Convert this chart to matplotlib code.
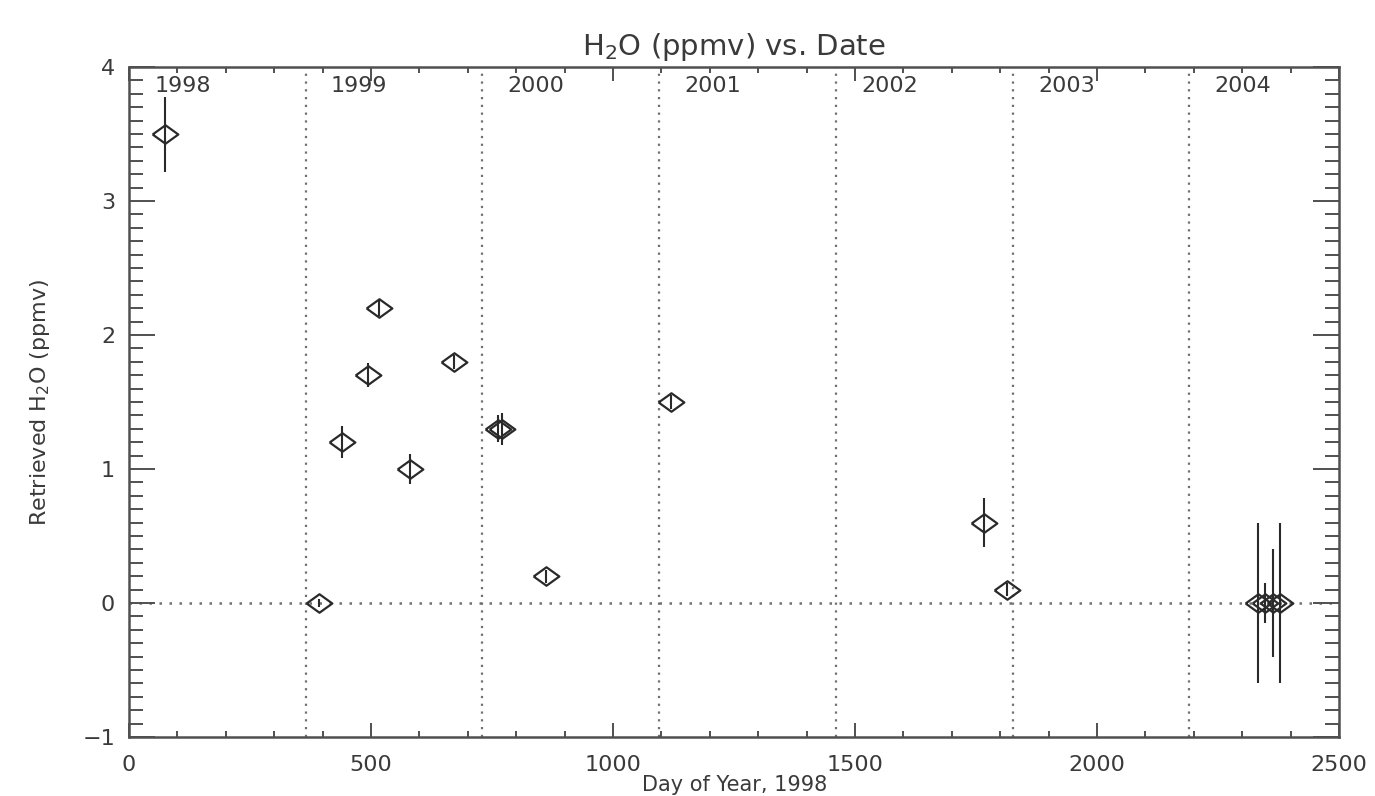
import matplotlib
matplotlib.use('Agg')
import matplotlib.pyplot as plt
from matplotlib.ticker import MultipleLocator

# Retrieved H2O vs day of year (day 0 = 1 Jan 1998)
days = [74, 393, 440, 494, 517, 580, 671, 762, 770, 861, 1120, 1766, 1814, 2333, 2347, 2364, 2378]
h2o = [3.5, 0.0, 1.2, 1.7, 2.2, 1.0, 1.8, 1.3, 1.3, 0.2, 1.5, 0.6, 0.1, 0.0, 0.0, 0.0, 0.0]
h2o_err = [0.28, 0.03, 0.12, 0.09, 0.06, 0.11, 0.05, 0.10, 0.12, 0.05, 0.05, 0.18, 0.05, 0.6, 0.15, 0.4, 0.6]

years = ['1998', '1999', '2000', '2001', '2002', '2003', '2004']
year_start = [0, 365, 730, 1096, 1461, 1826, 2191]

ink = '#2a2a2a'
axis_col = '#505050'
dot_col = '#707070'

# wide diamond like the IDL psym 4
diamond = [(-1, 0), (0, 0.72), (1, 0), (0, -0.72), (-1, 0)]


def plot_chart():
    fig = plt.figure(figsize=(13.75, 7.96), dpi=100)
    ax = fig.add_axes([0.0938, 0.0741, 0.88, 0.8417])

    # year boundaries and zero line
    for d in year_start[1:]:
        ax.axvline(d, color=dot_col, linestyle=(0, (1, 2.5)), linewidth=1.6, zorder=1)
    ax.axhline(0, color=dot_col, linestyle=(0, (1, 3)), linewidth=1.8, zorder=1)

    for yr, d in zip(years, year_start):
        ax.text(d + 52, 3.93, yr, ha='left', va='top', fontsize=16, color='#3a3a3a')

    ax.errorbar(days, h2o, yerr=h2o_err, fmt='none', ecolor=ink, elinewidth=1.5, capsize=0, zorder=3)
    ax.plot(days, h2o, linestyle='none', marker=diamond, markersize=18.5,
            markerfacecolor='none', markeredgecolor=ink, markeredgewidth=1.6, zorder=4)

    ax.set_xlim(0, 2500)
    ax.set_ylim(-1, 4)
    ax.xaxis.set_major_locator(MultipleLocator(500))
    ax.xaxis.set_minor_locator(MultipleLocator(100))
    ax.yaxis.set_major_locator(MultipleLocator(1))
    ax.yaxis.set_minor_locator(MultipleLocator(0.1))

    ax.tick_params(axis='both', which='both', direction='in', top=True, right=True,
                   color=axis_col, width=1.4, labelcolor='#3a3a3a', labelsize=16)
    ax.tick_params(axis='x', which='major', length=10, pad=13)
    ax.tick_params(axis='x', which='minor', length=4)
    ax.tick_params(axis='y', which='major', length=19, pad=10)
    ax.tick_params(axis='y', which='minor', length=10)

    for sp in ax.spines.values():
        sp.set_color(axis_col)
        sp.set_linewidth(1.8)

    ax.set_title('H$_2$O (ppmv) vs. Date', fontsize=21, color='#3a3a3a', pad=9)
    ax.set_ylabel('Retrieved H$_2$O (ppmv)', fontsize=16, color='#3a3a3a', labelpad=22)
    fig.text(0.534, 0.026, 'Day of Year, 1998', ha='center', va='top',
             fontsize=15, color='#3a3a3a')

    fig.savefig('out.png', dpi=100)


if __name__ == '__main__':
    plot_chart()
